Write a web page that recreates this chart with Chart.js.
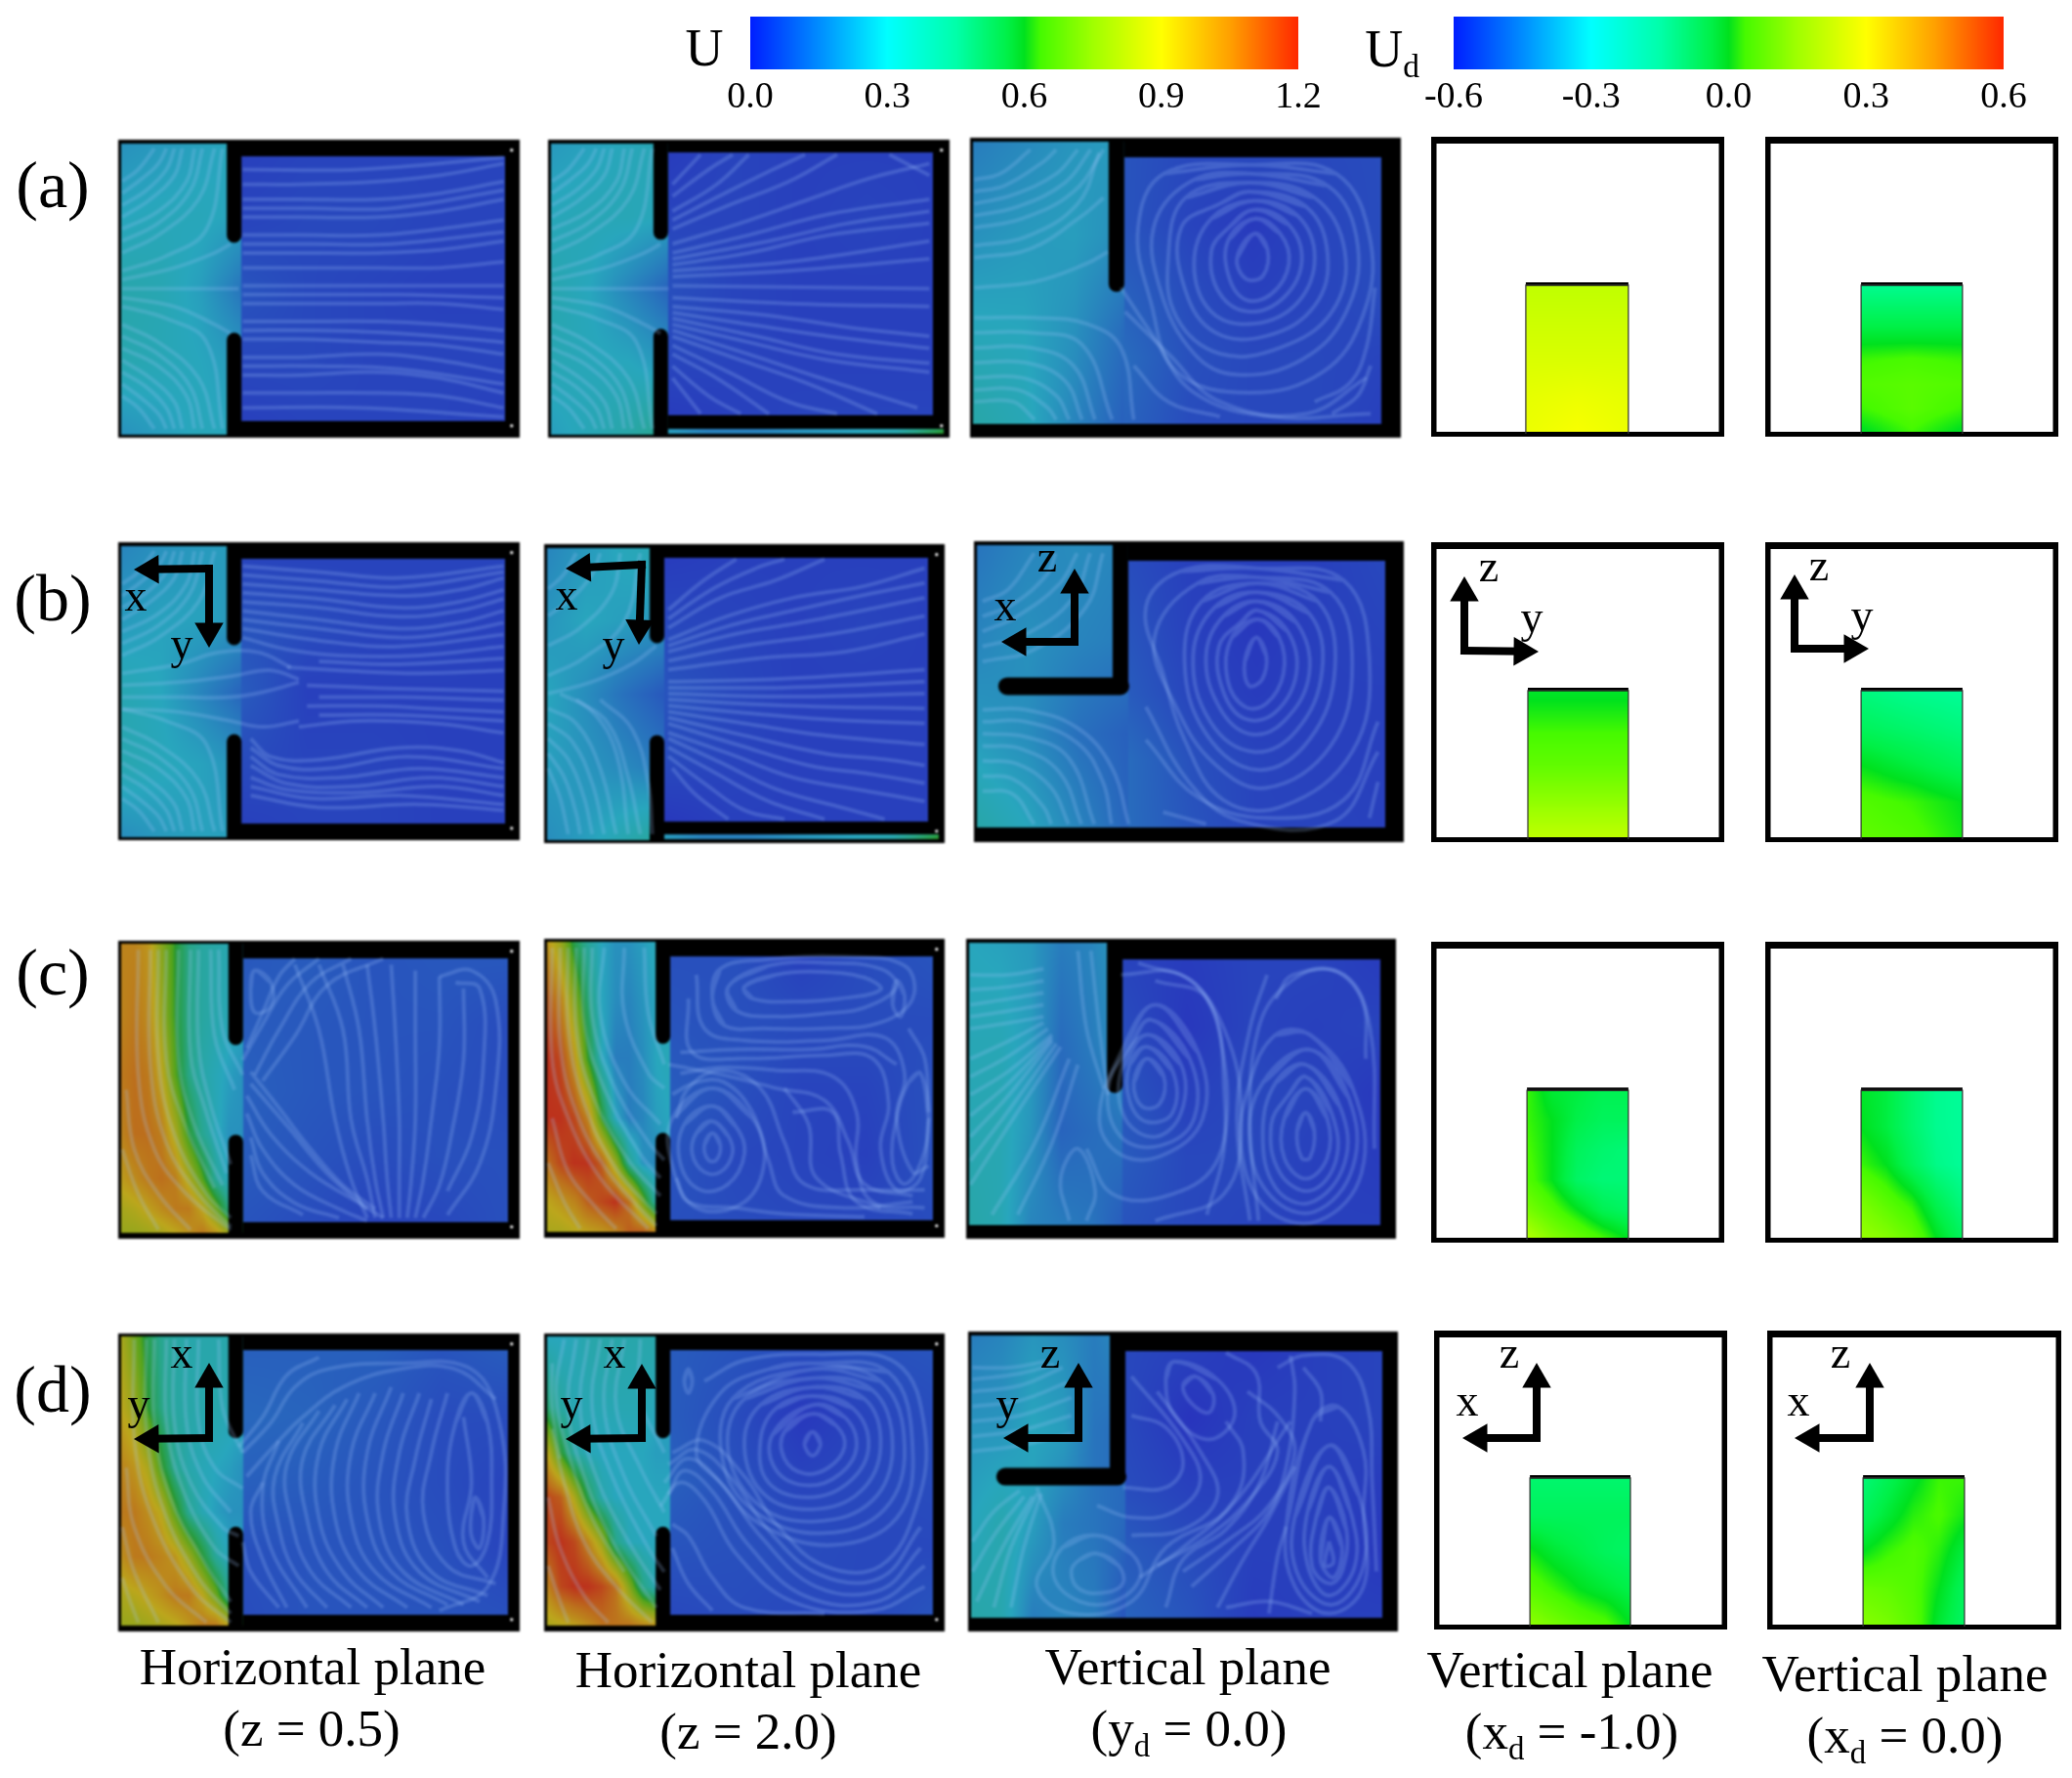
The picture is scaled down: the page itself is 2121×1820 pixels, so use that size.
<!DOCTYPE html>
<html>
<head>
<meta charset="utf-8">
<title>Velocity fields</title>
<script src="https://cdn.jsdelivr.net/npm/chart.js@4"></script>
<style>
  html, body { margin: 0; padding: 0; background: #fff; }
  #page { position: relative; width: 2121px; height: 1820px; overflow: hidden; }
  #page canvas { position: absolute; }
  .lbl { position: absolute; transform: translate(-50%, -50%); font-family: "Liberation Serif", serif; color: #000; line-height: 1; white-space: nowrap; }
  .lbl i { font-style: normal; font-size: .62em; position: relative; top: .32em; }
</style>
</head>
<body>
<div id="page"></div>
<script>
// colour bars
const uTicks = [0.0, 0.3, 0.6, 0.9, 1.2];
const udTicks = [-0.6, -0.3, 0.0, 0.3, 0.6];

// colour ramp
const rampAt = [0, .125, .25, .375, .47, .5, .53, .625, .75, .875, 1];
const rampR = [0, 0, 0, 0, 0, 0, 70, 160, 255, 255, 255];
const rampG = [30, 140, 255, 255, 240, 225, 250, 255, 255, 160, 40];
const rampB = [255, 255, 255, 170, 70, 30, 0, 0, 0, 0, 0];

// U outside the wall (rows top to bottom)
const a1Left = [[.25,.27,.29,.31],[.3,.31,.31,.29],[.35,.33,.28,.18],[.34,.32,.3,.27],[.25,.28,.31,.3]];
const a2Left = [[.27,.29,.31,.33],[.31,.32,.32,.3],[.34,.3,.22,.14],[.33,.31,.3,.26],[.28,.32,.36,.44]];
const b1Left = [[.22,.25,.27,.28],[.27,.29,.29,.26],[.33,.3,.22,.14],[.34,.31,.29,.25],[.24,.27,.29,.28]];
const b2Left = [[.22,.27,.31,.33],[.26,.3,.28,.26],[.3,.24,.17,.11],[.28,.26,.23,.19],[.24,.28,.34,.4]];
const bandRowsC1 = [1, 25, 45, 65, 80, 90, 98];
const bandRowsC2 = [1, 20, 40, 60, 75, 88, 98];
const bandRowsD1 = [1, 25, 45, 60, 75, 88, 98];
const bandRowsD2 = [1, 25, 40, 55, 70, 85, 98];
const c1Left = [
  [1.0,1.0,.95,.75,.6,.45,.38,.36,.33,.3],
  [1.0,1.03,.98,.8,.6,.45,.38,.35,.32,.3],
  [1.03,1.06,1.03,.9,.65,.45,.36,.32,.28,.25],
  [1.0,1.06,1.06,1.02,.85,.6,.42,.32,.25,.25],
  [.93,.98,1.03,1.06,1.02,.85,.65,.4,.3,.25],
  [.84,.87,.92,.98,1.03,1.03,.9,.7,.45,.3],
  [.8,.8,.82,.85,.9,.96,1.03,.95,.8,.6]];
const c2Left = [
  [.95,.8,.55,.4,.3,.25,.25,.28,.32,.32],
  [1.1,1.0,.75,.48,.3,.24,.22,.26,.3,.32],
  [1.2,1.15,.95,.6,.32,.2,.2,.24,.3,.32],
  [1.2,1.2,1.15,1.0,.6,.3,.2,.22,.28,.3],
  [1.05,1.15,1.2,1.2,1.1,.8,.42,.25,.22,.3],
  [.9,.95,1.0,1.1,1.15,1.2,1.05,.7,.35,.3],
  [.85,.85,.88,.92,.95,1.0,1.1,1.1,1.0,.7]];
const d1Left = [
  [.85,.7,.55,.42,.38,.35,.35,.35,.35,.35],
  [.9,.8,.6,.45,.38,.36,.35,.35,.33,.32],
  [1.0,.95,.85,.62,.42,.35,.32,.3,.28,.25],
  [1.03,1.03,.97,.88,.65,.42,.33,.28,.25,.25],
  [.97,1.03,1.03,1.0,.95,.8,.6,.4,.3,.28],
  [.85,.88,.92,.97,1.03,1.03,.9,.7,.42,.3],
  [.8,.8,.82,.85,.88,.95,1.03,1.03,.9,.6]];
const d2Left = [
  [.3,.3,.32,.35,.36,.36,.35,.35,.35,.32],
  [.5,.38,.33,.33,.33,.33,.33,.33,.3,.28],
  [.9,.6,.38,.32,.3,.3,.3,.3,.28,.28],
  [1.15,1.1,.85,.55,.35,.3,.3,.3,.3,.3],
  [1.15,1.2,1.15,1.0,.8,.45,.32,.3,.3,.3],
  [1.0,1.15,1.2,1.2,1.15,1.05,.75,.45,.32,.28],
  [.85,.88,.92,.98,1.05,1.05,1.05,1.0,.95,.6]];
const a3Left = [[.2,.23,.26,.28],[.25,.27,.28,.24],[.31,.3,.25,.16],[.36,.32,.22,.13]];
const b3Left = [[.18,.22,.24,.22],[.22,.25,.22,.2],[.27,.24,.17,.13],[.36,.3,.22,.14]];
const c3Left = [[.3,.29,.27,.2,.22,.28],[.32,.32,.28,.16,.2,.25],[.33,.33,.26,.14,.16,.18],[.36,.33,.22,.2,.18,.12]];
const d3Left = [[.2,.22,.26,.24,.2,.24],[.26,.26,.3,.28,.18,.16],[.3,.34,.28,.2,.18,.15],[.36,.34,.2,.22,.2,.1]];

// U inside the room
const a1Inner = [[.05,.06,.06,.06,.06],[.06,.07,.07,.06,.06],[.1,.07,.06,.05,.05],[.07,.07,.06,.06,.06],[.05,.06,.06,.06,.05]];
const a2Inner = [[.04,.06,.05,.05,.05],[.06,.06,.05,.06,.05],[.09,.06,.05,.05,.05],[.07,.06,.05,.05,.05],[.04,.05,.06,.06,.06]];
const a3Inner = [[.1,.07,.07,.07,.08],[.1,.06,.035,.06,.08],[.13,.08,.05,.06,.08],[.16,.09,.07,.07,.06],[.14,.08,.07,.07,.05]];
const b1Inner = [[.06,.06,.06,.06,.06],[.1,.08,.06,.06,.05],[.12,.05,.05,.05,.05],[.08,.06,.06,.05,.05],[.05,.06,.06,.05,.05]];
const b2Inner = [[.04,.05,.05,.05,.05],[.07,.06,.05,.06,.05],[.1,.07,.05,.05,.05],[.08,.06,.05,.05,.05],[.03,.05,.05,.05,.05]];
const b3Inner = [[.08,.05,.05,.05,.07],[.1,.05,.03,.05,.06],[.12,.06,.04,.05,.05],[.16,.09,.06,.05,.05],[.16,.1,.06,.06,.05]];
const c1Inner = [[.11,.12,.1,.11,.11],[.12,.11,.1,.1,.08],[.13,.11,.1,.09,.08],[.12,.1,.08,.09,.09],[.1,.08,.06,.07,.09]];
const c2Inner = [[.09,.09,.05,.08,.1],[.1,.09,.08,.08,.08],[.12,.09,.06,.06,.09],[.1,.07,.06,.05,.09],[.09,.08,.07,.07,.08]];
const c3Inner = [[.06,.04,.06,.06,.04],[.08,.03,.06,.05,.06],[.1,.05,.07,.06,.03],[.12,.07,.07,.05,.04],[.1,.07,.06,.05,.05]];
const d1Inner = [[.13,.13,.13,.1,.12],[.15,.14,.11,.08,.08],[.13,.12,.1,.08,.06],[.09,.1,.1,.09,.06],[.08,.1,.1,.1,.09]];
const d2Inner = [[.12,.1,.08,.09,.1],[.12,.08,.03,.06,.08],[.13,.09,.06,.07,.08],[.1,.09,.08,.07,.07],[.07,.08,.07,.07,.1]];
const d3Inner = [[.07,.05,.03,.05,.06],[.07,.02,.05,.05,.06],[.08,.05,.05,.05,.04],[.12,.08,.05,.05,.03],[.14,.1,.04,.05,.05]];

// U in the thin strip under the room
const stripValues = [[.28,.2,.2,.25,.28,.32,.55],[.3,.22,.22,.26,.3,.36,.62]];

// Ud on the door planes
const a4Door = [[.2,.2,.2],[.22,.22,.22],[.24,.24,.24],[.26,.27,.26],[.27,.29,.27]];
const a5Door = [[-.12,-.12,-.12],[-.07,-.07,-.07],[-.02,-.02,-.02],[.03,.04,.03],[.05,.06,.05],[.03,.06,.03],[-.01,.03,-.01]];
const b4Door = [[-.01,-.01,-.01],[.03,.03,.03],[.07,.07,.07],[.13,.13,.13],[.2,.2,.2]];
const b5Door = [[-.1,-.12,-.13],[-.06,-.08,-.1],[.0,-.03,-.06],[.05,.03,.0],[.07,.05,.01]];
const c4Door = [[.03,-.02,-.03,-.05,-.05],[.03,.0,-.04,-.06,-.06],[.04,.0,-.06,-.08,-.09],[.05,.0,-.07,-.09,-.09],[.1,.05,.0,-.05,-.07],[.18,.12,.08,.04,.0]];
const c5Door = [[-.01,-.03,-.08,-.12,-.13],[.0,-.03,-.08,-.12,-.13],[.03,.0,-.06,-.11,-.13],[.1,.06,.02,-.05,-.1],[.14,.12,.08,.0,-.06]];
const d4Door = [[-.08,-.08,-.08,-.08,-.08],[-.06,-.06,-.06,-.06,-.06],[.01,-.02,-.04,-.06,-.07],[.06,.03,.0,-.02,-.04],[.13,.1,.07,.05,.0]];
const d5Door = [[-.09,-.05,-.01,.03,.03],[-.06,-.02,.02,.04,.01],[.0,.03,.05,.02,-.03],[.08,.07,.05,.0,-.06],[.12,.1,.06,-.02,-.07]];

// streamlines: x,y,x,y... in percent of each panel
const fanUpper = [[1,38,10,32,20,20,24,3],[1,30,10,24,17,14,19,3],[1,22,7,17,12,10,14,3],[1,14,5,10,9,3],[1,44,12,39,22,30,26,3],[1,47,14,43,24,38,28,35],[1,50,30,50],[1,34,10,28,18,17,21,3],[1,26,8,20,14,12,16,3],[1,18,6,13,10,8,12,3]];
const fanLower = [[1,62,10,68,20,80,24,97],[1,70,10,76,17,86,19,97],[1,78,7,83,12,90,14,97],[1,86,5,90,9,97],[1,56,12,60,22,68,26,97],[1,53,14,56,24,62,28,65],[1,66,10,72,18,83,21,97],[1,74,8,80,14,88,16,97],[1,82,6,87,10,92,12,97]];
const a1Lines = [
  [31,10,60,10,96,6],[31,15,45,15,65,14,80,12,96,8],[31,20,45,20,65,20,80,18,96,14],[31,26,45,26,65,26,80,24,96,20],
  [31,32,45,32,65,32,80,30,96,27],[31,38,45,38,65,38,80,37,96,34],[31,43,45,43,65,43,80,43,96,41],[31,49,45,49,65,49,96,49],
  [31,55,45,55,65,55,80,55,96,57],[31,61,45,61,65,61,80,62,96,64],[31,67,45,67,65,68,80,69,96,72],[31,73,45,73,65,72,80,74,96,78],
  [31,79,45,79,65,78,80,80,96,85],[31,85,45,85,65,85,80,86,96,90],[31,90,60,90,96,93],
  [31,23,48,23,68,23,96,17],[31,35,48,35,68,35,96,31],[31,52,50,52,70,52,96,53],[31,64,50,64,70,65,96,68],[31,76,50,76,70,77,96,82]];
const a2Lines = [
  [31,42,50,38,70,32,95,28],[31,38,50,32,70,25,95,20],[31,35,48,28,65,20,80,13,95,8],[31,30,45,22,60,14,72,5],[31,24,42,15,50,5],[31,15,38,5],[85,5,95,12],
  [31,46,60,44,95,40],[31,49,95,50],[31,53,60,55,95,56],[31,58,50,62,70,66,95,70],[31,62,50,68,70,74,95,78],[31,66,48,74,65,82,82,92],[31,72,42,80,55,92],[31,80,38,92],
  [31,44,60,41,95,34],[31,40,55,34,75,28,95,24],[31,27,44,18,56,10,64,5],[31,19,40,10,46,5],[31,56,55,59,75,63,95,66],[31,60,52,66,72,72,95,75],[31,64,50,72,68,80,92,90],[31,69,45,78,60,88,72,92],[31,76,40,86,48,92]];
const b1Lines = [
  [31,8,50,10,70,12,96,8],[31,14,50,16,70,18,85,16,96,12],[31,20,50,22,70,25,85,23,96,19],[31,26,50,29,70,32,85,30,96,27],
  [31,32,42,36,55,38,75,38,96,35],[42,42,55,43,75,44,96,43],[47,48,65,49,96,50],[47,55,65,55,80,56,96,57],[45,62,60,60,80,61,96,64],
  [33,66,38,72,50,73,70,69,85,70,96,74],[33,72,40,78,55,79,75,76,96,79],[33,79,42,83,60,84,80,82,96,85],[33,85,50,89,75,88,96,90],
  [1,48,15,47,28,45,38,43,45,46],[1,52,15,52,28,52,37,50,45,47],[1,56,15,57,28,60,36,62,45,60],[1,44,15,41,25,37,35,37,43,42],
  [31,11,50,13,70,15,96,10],[31,17,50,19,70,22,85,20,96,16],[31,23,50,26,70,29,85,27,96,23],[31,29,50,33,70,35,96,31],[33,69,40,75,52,76,72,72,96,76],[33,75,42,81,58,82,78,79,96,82],[33,82,48,86,70,85,96,88],[50,40,70,41,96,39],[50,52,70,52,96,53],[50,58,70,58,96,60]];
const b2Lines = [
  [1,44,10,38,20,26,24,3],[1,34,9,28,17,16,19,3],[1,24,7,18,12,10,14,3],[1,15,5,10,8,3],[1,50,12,46,22,40,28,34],
  [1,55,8,60,14,75,18,97],[1,65,6,72,10,85,12,97],[1,75,4,85,6,97],[8,52,16,60,21,78,24,97],[14,52,22,62,26,80,27,97],[1,60,7,66,12,80,15,97],[1,70,5,78,8,90,9,97],[4,50,12,56,18,70,21,97],
  [31,36,48,30,65,26,95,18],[31,32,46,24,62,18,80,14,95,8],[31,28,44,18,58,12,70,5],[31,22,40,12,48,5],[31,42,55,38,75,36,95,30],
  [31,46,60,45,95,42],[31,50,60,51,95,50],[31,54,55,57,75,59,95,60],[31,58,50,64,70,70,85,72,95,74],[31,63,46,70,62,78,78,82,95,86],
  [31,68,42,76,56,86,70,92],[32,75,38,84,46,92],
  [31,39,50,34,72,30,95,24],[31,34,47,27,63,22,80,17,95,13],[31,25,42,15,53,8,60,5],[31,48,60,48,95,46],[31,52,60,54,95,55],[31,56,50,60,70,64,95,67],[31,60,48,67,66,74,82,77,95,80],[31,65,44,73,58,82,74,88,85,92],[31,71,40,80,50,89,60,92]];
const c1Lines = [
  [44,8,50,30,54,60,58,80,62,93],[50,8,56,30,58,60,62,80,64,93],[56,8,60,30,62,60,64,80,66,93],[62,8,64,30,66,60,67,80,68,93],[68,8,69,30,70,60,70,80,70,93],
  [74,10,74,30,74,60,73,80,72,93],[80,12,80,35,78,60,76,80,74,93],[86,16,86,40,83,65,80,82,76,93],[80,12,88,10,94,20,94,50,90,75,82,92],[84,14,90,16,91,40,88,66,82,84],
  [32,52,38,65,48,78,60,88,66,93],[32,58,36,70,44,82,55,90,62,94],[33,48,42,62,52,78,62,90],[33,66,36,78,44,88,55,93],[33,44,40,56,48,70,56,82,64,90],[33,72,36,84,46,92],
  [31,40,36,28,42,15,50,6],[34,45,40,30,48,14,58,6],[32,36,36,24,40,12,44,6],[36,47,44,32,52,15,66,6],[34,10,38,14,38,22,34,24,33,16,34,10],
  [5,3,5,45,9,70,17,85,28,97],[10,3,10,40,14,65,22,85,28,93],[15,3,15,40,19,62,26,82],[20,3,20,35,23,55,28,75],[25,3,26,30,31,45],[2,50,4,70,10,85,18,97],[1,70,5,85,10,97],[8,3,8,42,12,68,20,85,28,96],[12,3,12,40,17,63,24,83],[18,3,18,38,22,58,27,78],[23,3,24,32,29,50]];
const c2Lines = [
  [50,16,58,12,68,11,80,13,84,17,74,20,62,21,52,20,50,16],[46,16,56,9,70,8,84,10,88,16,80,23,70,25,58,26,48,24,46,16],[42,20,44,10,55,7,75,6,90,9,92,20,84,28,70,30,55,30,45,29,42,20],
  [38,12,40,30,50,34,70,34,85,33,90,45,88,60,92,78,96,76],[36,20,37,38,50,40,70,39,82,40,86,55,84,70,88,84,94,80,96,60],[34,45,45,43,58,44,72,46,78,58,78,75,82,88,95,90],
  [88,14,90,19,89,26,87,22,88,14],[42,65,44,69,43,74,41,74,40,69,42,65],[42,61,46,66,47,72,44,78,40,78,37,72,38,65,42,61],[42,56,48,63,50,72,46,82,39,84,34,75,35,62,42,56],[42,50,52,60,55,74,50,88,38,90,32,76,32,60,42,50],
  [32,52,38,48,45,48,52,58,56,74,60,86,75,90,92,88],[33,60,36,50,44,44,54,50,60,68,65,82,80,84,95,84],[33,80,36,88,48,90,60,92,80,93],[94,45,96,60,94,75,90,82,87,75,88,60,91,48,94,45],
  [34,38,48,37,66,37,80,36,88,42],[31,42,46,46,58,50,70,54,76,68,80,82,92,86],[62,58,72,58,74,72,78,88,92,92],[60,50,66,62,68,80,84,90],[91,30,95,40,96,58],
  [2,3,2,40,6,60,14,80,26,97],[6,3,6,30,10,55,18,77,28,92],[10,3,10,28,15,50,24,72,29,80],[15,3,14,25,20,48,29,62],[20,3,20,25,26,45,30,50],[25,3,26,25,30,42],[2,60,6,78,13,90,18,97],[1,75,5,88,9,97],[4,3,4,35,8,58,16,78,28,96],[8,3,8,30,12,52,21,74,29,86],[12,3,12,26,17,48,26,68,30,74]];
const d1Lines = [
  [88,20,92,30,93,50,92,70,88,78,84,72,82,50,84,30,88,20],[89,55,91,62,90,72,88,68,88,60,89,55],[82,20,78,40,76,60,82,78,94,84],[75,20,70,40,69,62,75,80,90,90],
  [68,18,62,40,62,62,68,80,82,91],[60,20,54,40,54,62,60,80,72,92],[54,24,46,42,47,62,52,80,62,92],[46,30,39,48,40,65,44,80,52,92],[36,50,33,60,36,76,42,92],
  [32,48,40,36,46,28,56,18,70,12,84,12,94,22],[30,38,36,28,42,14,50,8],[31,70,33,80,40,92],[31,40,38,30,44,18,52,12,70,10,88,12,95,30,96,60,92,85,80,93],
  [78,22,74,42,72,62,78,80,92,88],[71,20,66,40,65,62,71,80,86,91],[64,20,58,40,58,62,64,80,78,92],[57,22,50,40,50,62,56,80,66,92],[50,26,42,44,43,62,48,80,58,92],[86,28,88,50,86,70,92,82],[40,36,36,52,38,72,47,92],
  [4,2,4,35,8,60,18,85,28,97],[9,2,9,30,13,55,22,78,28,90],[14,2,14,30,18,50,26,65,30,68],[20,2,20,30,24,45,31,52],[25,2,26,25,31,40],[2,45,4,65,12,85,22,97],[1,65,4,80,10,97],[1,82,3,90,5,97],[7,2,7,32,11,58,20,82,28,94],[12,2,12,30,16,52,24,72,30,78],[17,2,17,30,21,48,28,60]];
const d2Lines = [
  [67,33,69,37,67,41,65,37,67,33],[67,27,73,31,75,38,71,45,65,47,60,42,60,33,67,27],[67,21,77,25,81,38,76,50,66,55,56,50,54,36,58,25,67,21],[67,15,82,19,87,38,82,56,68,63,54,58,46,40,50,22,67,15],
  [67,10,86,13,92,38,88,62,72,71,54,64,44,50,38,40,44,20,56,12,67,10],[32,40,40,36,50,48,58,64,70,78,84,78,93,58,95,32,88,10,68,7,50,9,40,16],[30,50,36,42,44,50,54,68,68,85,84,86,94,72],
  [29,58,34,50,40,56,48,74,62,90,82,93,95,85],[32,64,36,68,42,82,50,92,70,94],[32,72,36,84,42,93],[36,12,37,16,36,20,35,16,36,12],
  [67,24,75,28,78,38,74,47,66,51,58,46,57,34,67,24],[67,18,80,22,84,38,79,53,67,59,55,54,50,38,54,24,67,18],[67,12,84,16,90,38,85,59,70,67,54,61,45,45,47,22,67,12],[31,44,38,39,47,49,56,66,69,81,84,82,94,65],[31,54,35,46,42,53,51,71,65,88,83,90,95,78],
  [2,32,5,50,10,70,18,85,27,97],[8,2,6,25,10,48,18,72,28,92],[14,2,12,25,17,48,26,72,30,80],[20,2,18,25,24,45,30,60],[24,2,24,22,30,40],[2,10,2,25,4,42],[1,55,4,72,10,88,16,97],[1,78,4,90,6,97],[11,2,9,25,13,48,22,72,29,86],[17,2,15,25,20,48,28,68],[5,2,3,20,6,40,12,62,20,80]];
const a3Lines = [
  [65,9,85,12,93,35,91,60,82,78,65,85,48,78,42,55,39,30,45,12,65,9],[65,15,80,20,87,38,84,58,72,70,58,72,48,60,46,40,50,20,65,15],[66,21,76,26,80,40,76,55,66,62,56,58,52,42,56,27,66,21],
  [66,27,72,32,74,42,70,52,64,54,60,46,60,34,66,27],[66,32,69,37,68,46,64,47,62,40,66,32],[35,50,42,65,52,85,70,93,93,92],
  [65,12,83,16,90,36,87,59,77,74,62,79,52,72,44,50,43,28,52,14,65,12],[65,18,78,23,83,39,80,56,69,66,57,65,50,51,49,30,58,22,65,18],[66,24,74,29,77,41,73,53,65,58,58,52,56,38,60,30,66,24],[36,58,46,72,58,88,78,92,92,80],[38,76,46,88,58,93],[80,88,88,82,92,70,94,50],[84,92,90,86,93,76],
  [1,30,12,27,24,18,31,4],[1,22,10,19,20,12,25,4],[1,14,7,12,14,4],[1,40,14,37,26,26,31,20],[1,50,15,48,27,42,32,38],[1,60,15,60,27,62,35,70,38,94],[1,70,14,70,24,76,29,94],[1,80,12,80,20,86,23,94],[1,88,10,88,15,94],
  [1,36,13,33,25,22,30,5],[1,26,11,23,22,15,28,4],[1,18,8,16,17,8,20,4],[1,65,14,65,26,69,33,94],[1,75,13,75,22,81,26,94],[1,84,11,84,18,90,20,94]];
const b3Lines = [
  [65.6,32,68,38,67,46,64,48,63,40,65.6,32],[66,26,71,32,72,44,68,54,63,55,59,46,60,32,66,26],[66,20,75,27,78,44,72,60,64,64,57,55,54,38,58,25,66,20],[66,14,80,20,84,42,78,66,66,76,54,64,49,40,53,20,66,14],
  [66,9,86,13,92,40,88,70,72,88,58,86,49,66,44,44,40,22,48,10,66,9],[40,55,50,80,62,93,84,93,94,70],
  [66,12,83,17,88,41,83,68,68,82,56,74,47,55,42,32,52,14,66,12],[66,17,78,24,81,43,75,63,65,70,55,60,51,38,56,22,66,17],[66,23,73,30,75,44,70,57,63,59,58,50,57,35,62,27,66,23],[40,66,52,85,68,92,86,86,94,60],[44,90,54,94],[92,92,94,80],
  [2,56,12,56,24,62,32,75,36,94],[2,64,12,65,22,72,28,94],[2,73,10,74,18,82,22,94],[2,83,9,84,14,94],[2,30,10,25,20,14,24,4],[2,20,8,16,14,4],[2,40,14,36,26,22,30,4],
  [2,60,12,60,24,67,30,80,32,94],[2,68,11,69,20,77,25,94],[2,78,9,79,16,88,18,94],[2,25,9,21,17,11,19,4],[2,35,12,31,23,19,27,4]];
const c3Lines = [
  [42,40,46,46,45,55,41,56,39,48,42,40],[42,32,50,42,50,58,44,66,37,60,36,44,42,32],[44,22,54,38,55,60,46,72,36,72,31,60,36,38,44,22],[36,12,50,12,60,30,64,60,60,85,44,94],[44,14,56,20,60,50,58,75,46,86,34,85,28,70],
  [79,58,81,64,80,73,78,73,77,64,79,58],[79,50,84,60,84,73,79,80,74,73,74,60,79,50],[79,42,87,56,88,75,80,88,72,83,69,65,72,48,79,42],[80,32,90,50,92,78,82,94,70,90,64,70,66,48,72,32,80,32],
  [72,20,76,12,88,12,94,30,95,70],[66,94,63,60,66,30,70,12],[42,36,48,44,48,58,42,61,38,54,38,42,42,36],[43,27,52,40,53,60,45,69,36,66,33,50,38,36,43,27],[79,46,85,58,86,74,80,84,73,78,71,62,75,52,79,46],[80,37,89,53,90,76,81,91,71,86,66,68,69,48,80,37],[68,94,66,60,68,30,74,16,84,10,92,20,93,40],[56,92,60,70,60,40,54,16,40,8],
  [1,12,10,12,18,10],[1,22,10,20,18,18],[1,30,10,28,18,26],[1,40,10,34,18,28],[1,52,10,44,20,32],[1,66,10,52,20,34],[1,82,10,62,22,36],[6,92,16,68,24,40],[26,4,28,30,32,50],[29,4,31,30,33,52],[24,94,22,80,26,70,30,84,28,94],
  [1,17,10,16,18,14],[1,26,10,24,18,22],[1,46,10,39,19,30],[1,59,10,48,20,33],[1,74,10,57,21,35],[12,92,20,68,26,42]];
const d3Lines = [
  [53,15,57,21,56,27,52,24,50,18,53,15],[48,10,58,16,62,28,56,36,48,28,46,16,48,10],[60,7,67,14,68,30,72,40,66,55,56,68,44,78],[75,8,76,20,74,45,70,60,62,72,52,85],[72,12,78,8,88,10,93,25,94,50,95,80],
  [38,15,50,36,54,50,48,60,38,62,30,58],[38,28,46,32,50,44,46,52,36,52],[80,30,86,25,92,40,92,60,92,85,84,94,76,85,74,65,80,30],[84,45,89,60,90,78,84,88,79,78,79,60,84,45],[84,62,87,72,85,82,82,76,84,62],[84,70,85,77,83,78,84,70],
  [30,68,38,74,40,82,34,90,26,90,20,82,22,72,30,68],[16,52,20,70,16,85,24,94,38,90,46,72,60,60,75,30],[46,92,50,76,60,66,68,50,72,30],[58,92,64,76,70,62,76,45],[70,94,72,75,74,65],
  [44,20,54,40,58,55,50,66,38,68],[60,30,64,40,62,56,50,72,40,82],[65,20,72,28,76,40,70,58,60,70,50,80],[78,12,82,20,82,30],[84,38,91,55,92,78,85,91,77,82,76,62,84,38],[84,52,88,66,87,80,84,84,80,78,81,62,84,52],[30,74,35,78,36,84,32,87,26,86,24,80,26,76,30,74],[80,94,70,90,60,92],
  [1,12,10,12,18,10],[1,20,12,18,22,12],[1,30,12,28,24,22],[1,40,12,38,24,34],[2,90,8,72,15,55],[10,92,13,72,17,54],[1,70,6,60,12,53],[1,16,12,14,20,11],[1,25,12,23,23,17],[1,35,12,33,24,28],[1,80,6,68,13,55],[6,92,10,72,16,54]];

// where things go on the page, panels in page pixels, inner parts in percent
const flowPanels = [
  {box:[121,143,411,305], open:[34.4,64.9], inner:[30.7,96.4,5.6,94.4], left:a1Left, innerU:a1Inner, lines:[...fanUpper,...fanLower,...a1Lines]},
  {box:[561,143,411,305], open:[33.4,63.6], inner:[29.9,95.9,4.3,92.5], left:a2Left, innerU:a2Inner, lines:[...fanUpper,...fanLower,...a2Lines], strip:true},
  {box:[121,555,411,305], open:[34.4,64.6], inner:[30.7,96.4,5.6,94.4], left:b1Left, innerU:b1Inner, lines:[...fanUpper.slice(0,4),...fanUpper.slice(7),...fanLower.slice(0,5),...fanLower.slice(6),...b1Lines]},
  {box:[557,557,410,306], open:[33,64], inner:[30,95.9,4.6,92.8], left:b2Left, innerU:b2Inner, lines:b2Lines, strip:true},
  {box:[121,963,411,305], open:[34.8,65.2], inner:[31.1,97,5.9,94.4], left:c1Left, leftRows:bandRowsC1, innerU:c1Inner, lines:c1Lines},
  {box:[557,961,410,306], open:[35,65], inner:[31.5,97,5.9,94.1], left:c2Left, leftRows:bandRowsC2, innerU:c2Inner, lines:c2Lines},
  {box:[121,1365,411,305], open:[35,65], inner:[31.1,97,5.6,94.4], left:d1Left, leftRows:bandRowsD1, innerU:d1Inner, lines:d1Lines},
  {box:[557,1365,410,305], open:[35,65], inner:[31.5,97,5.6,94.4], left:d2Left, leftRows:bandRowsD2, innerU:d2Inner, lines:d2Lines},
  {box:[993,141,441,307], tip:50.8, inner:[35.8,95.5,6.5,95.4], left:a3Left, innerU:a3Inner, lines:a3Lines},
  {box:[997,554,440,308], tip:48.2, plate:[5.7,48.2], inner:[35.9,95.7,6.5,95.1], left:b3Left, innerU:b3Inner, lines:b3Lines},
  {box:[989,961,440,307], tip:50.8, inner:[36.4,96.4,6.8,95.4], left:c3Left, innerU:c3Inner, lines:c3Lines},
  {box:[991,1363,440,307], tip:48.4, plate:[6.6,48.4], inner:[36.6,96.4,6.5,95.4], left:d3Left, innerU:d3Inner, lines:d3Lines}
];
const doorPanels = [
  {box:[1465,140,300,307], door:[32.3,67.3,49.5,99], v:a4Door},
  {box:[1807,140,300,307], door:[32.7,67.3,49.5,99], v:a5Door},
  {box:[1465,555,300,307], door:[33,67.3,49.5,99], v:b4Door},
  {box:[1807,555,300,307], door:[32.7,67.3,49.5,99], v:b5Door},
  {box:[1465,964,300,308], door:[32.7,67.3,49.4,99], v:c4Door},
  {box:[1807,964,300,308], door:[32.7,67.3,49.4,99], v:c5Door},
  {box:[1468,1362,300,306], door:[32.7,67,49.3,99], v:d4Door},
  {box:[1809,1362,301,306], door:[32.6,67.1,49.3,99], v:d5Door}
];

// axis triads: corner, then arrow tips, page pixels
const triads = [
  [[214,582],[137,583],[214,663]], [[657,578],[579,582],[654,660]], [[1100,657],[1100,582],[1025,657]], [[1499,666],[1499,590],[1575,667]], [[1837,664],[1837,588],[1913,664]],
  [[214,1472],[214,1395],[137,1473]], [[657,1472],[657,1396],[579,1473]], [[1104,1472],[1104,1395],[1027,1472]], [[1573,1472],[1573,1395],[1497,1472]], [[1914,1472],[1914,1395],[1837,1472]]
];

const texts = [
  ['U',721,49,54], ['U<i>d</i>',1425,50,54],
  ['(a)',54,189,68], ['(b)',54,612,68], ['(c)',54,995,68], ['(d)',54,1422,68],
  ['x',139,610,46], ['y',186,659,46], ['x',580,609,46], ['y',628,660,46], ['z',1072,570,46], ['x',1029,620,46], ['z',1524,580,46], ['y',1568,632,46], ['z',1862,579,46], ['y',1906,630,46],
  ['x',186,1385,46], ['y',142,1437,46], ['x',629,1385,46], ['y',585,1437,46], ['z',1075,1385,46], ['y',1031,1437,46], ['z',1545,1385,46], ['x',1502,1434,46], ['z',1884,1385,46], ['x',1841,1434,46],
  ['Horizontal plane',320,1706,53], ['(z = 0.5)',319,1769,53],
  ['Horizontal plane',766,1709,53], ['(z = 2.0)',766,1772,53],
  ['Vertical plane',1216,1706,53], ['(y<i>d</i> = 0.0)',1217,1769,53],
  ['Vertical plane',1607,1709,53], ['(x<i>d</i> = -1.0)',1609,1772,53],
  ['Vertical plane',1950,1713,53], ['(x<i>d</i> = 0.0)',1950,1776,53]
];

const page = document.getElementById('page');

function rampColor(t, muted) {
  t = Math.max(0, Math.min(1, t));
  let i = 0;
  while (i < rampAt.length - 2 && t > rampAt[i + 1]) i++;
  const f = (t - rampAt[i]) / (rampAt[i + 1] - rampAt[i]);
  const r = rampR[i] + (rampR[i + 1] - rampR[i]) * f;
  const g = rampG[i] + (rampG[i + 1] - rampG[i]) * f;
  const b = rampB[i] + (rampB[i + 1] - rampB[i]) * f;
  if (muted) return [40 + .58 * r, 28 + .54 * g, 28 + .63 * b];
  return [r, g, b];
}

function cellOf(nodes, v) {
  let i = 0;
  while (i < nodes.length - 2 && v > nodes[i + 1]) i++;
  return [i, (v - nodes[i]) / (nodes[i + 1] - nodes[i])];
}

// paints a value grid smoothly, placed by the chart's own scales
const heatPlugin = {
  id: 'heat',
  beforeDatasetsDraw(chart) {
    chart.data.datasets.forEach(ds => {
      if (!ds.heat) return;
      const h = ds.heat;
      const sx = chart.scales.x, sy = chart.scales.y;
      const px0 = sx.getPixelForValue(h.xs[0]), px1 = sx.getPixelForValue(h.xs[h.xs.length - 1]);
      const py0 = sy.getPixelForValue(h.ys[0]), py1 = sy.getPixelForValue(h.ys[h.ys.length - 1]);
      const w = Math.round(px1 - px0), ht = Math.round(py1 - py0);
      const off = document.createElement('canvas');
      off.width = w; off.height = ht;
      const octx = off.getContext('2d');
      const img = octx.createImageData(w, ht);
      for (let j = 0; j < ht; j++) {
        const [r, fy] = cellOf(h.ys, sy.getValueForPixel(py0 + j + .5));
        for (let i = 0; i < w; i++) {
          const [c, fx] = cellOf(h.xs, sx.getValueForPixel(px0 + i + .5));
          const top = h.v[r][c] + (h.v[r][c + 1] - h.v[r][c]) * fx;
          const bot = h.v[r + 1][c] + (h.v[r + 1][c + 1] - h.v[r + 1][c]) * fx;
          const val = top + (bot - top) * fy;
          const col = rampColor((val - h.lo) / (h.hi - h.lo), h.muted);
          const k = (j * w + i) * 4;
          img.data[k] = col[0]; img.data[k + 1] = col[1]; img.data[k + 2] = col[2]; img.data[k + 3] = 255;
        }
      }
      octx.putImageData(img, 0, 0);
      chart.ctx.drawImage(off, Math.round(px0), Math.round(py0));
    });
  }
};

function span(a, b, n) {
  const out = [];
  for (let i = 0; i < n; i++) out.push(a + (b - a) * i / (n - 1));
  return out;
}

function heatSet(xs, ys, v, lo, hi, muted) {
  const data = [];
  ys.forEach(y => xs.forEach(x => data.push({x, y})));
  return {heat: {xs, ys, v, lo, hi, muted}, data, pointRadius: 0, showLine: false};
}

function pairs(flat) {
  const out = [];
  for (let i = 0; i < flat.length; i += 2) out.push({x: flat[i], y: flat[i + 1]});
  const a = out[0], b = out[out.length - 1];
  // closed rings: run past the join so the spline has no cusp there
  if (out.length > 4 && a.x === b.x && a.y === b.y) {
    out.unshift(out[out.length - 2]);
    out.push(out[2]);
  }
  return out;
}

function lineSet(flat, color, width, tension, cap) {
  return {data: pairs(flat), showLine: true, pointRadius: 0, borderColor: color, borderWidth: width, tension: tension || 0, borderCapStyle: cap || 'butt', fill: false};
}

function panelChart(box, datasets, bg, xMax, yMax) {
  const cv = document.createElement('canvas');
  cv.width = box[2]; cv.height = box[3];
  cv.style.left = box[0] + 'px'; cv.style.top = box[1] + 'px';
  cv.style.width = box[2] + 'px'; cv.style.height = box[3] + 'px';
  if (bg) cv.style.background = bg;
  page.appendChild(cv);
  new Chart(cv, {
    type: 'scatter',
    data: {datasets},
    plugins: [heatPlugin],
    options: {
      responsive: false, animation: false, devicePixelRatio: 1, events: [],
      layout: {padding: 0, autoPadding: false},
      plugins: {legend: {display: false}, tooltip: {enabled: false}},
      scales: {
        x: {type: 'linear', display: false, min: 0, max: xMax || 100},
        y: {type: 'linear', display: false, min: 0, max: yMax || 100, reverse: true}
      }
    }
  });
  return cv;
}

const streak = 'rgba(165,200,255,0.22)';

flowPanels.forEach(p => {
  const w = p.box[2];
  const wallWidth = p.tip ? 16 : 15;
  const wall = p.inner[0] - wallWidth / 2 / w * 100;
  const bottom = p.tip ? p.inner[3] : 98.8;
  const leftCols = span(.7, p.inner[0], p.left[0].length);
  const leftRows = p.leftRows ? p.leftRows.map(y => Math.min(y, bottom)) : span(1.2, bottom, p.left.length);
  const sets = [
    heatSet(leftCols, leftRows, p.left, 0, 1.2, true),
    heatSet(span(p.inner[0], p.inner[1], 5), span(p.inner[2], p.inner[3], 5), p.innerU, 0, 1.2, true)
  ];
  if (p.strip) sets.push(heatSet(span(28, 98.6, 7), [97.2, 98.8], stripValues, 0, 1.2, true));
  p.lines.forEach(l => sets.push(lineSet(l, streak, 4, .4)));
  if (p.tip) {
    sets.push(lineSet([wall, 0, wall, p.plate ? p.plate[1] : p.tip - 2], '#000', wallWidth, 0, 'round'));
    if (p.plate) sets.push(lineSet([p.plate[0] + 2, p.plate[1], wall, p.plate[1]], '#000', 18, 0, 'round'));
  } else {
    sets.push(lineSet([wall, 0, wall, p.open[0] - 2.3], '#000', wallWidth, 0, 'round'));
    sets.push(lineSet([wall, p.open[1] + 2.3, wall, 100], '#000', wallWidth, 0, 'round'));
    sets.push({data: [{x: wall + .3, y: 3.5}, {x: 98, y: 3.5}, {x: wall + .3, y: 96}, {x: 98, y: 96}], showLine: false, pointRadius: 1.6, pointStyle: 'circle', backgroundColor: '#fff', borderWidth: 0});
  }
  const cv = panelChart(p.box, sets, '#000');
  cv.style.filter = 'blur(0.9px)';
});

doorPanels.forEach(p => {
  const d = p.door;
  const cols = span(d[0], d[1], p.v[0].length);
  const rows = span(d[2], d[3], p.v.length);
  panelChart(p.box, [
    heatSet(cols, rows, p.v, -.6, .6, false),
    lineSet([d[0], d[3], d[0], d[2], d[1], d[2], d[1], d[3]], '#333', 1.2),
    lineSet([d[0], d[2] - .4, d[1], d[2] - .4], '#000', 3.5),
    lineSet([0, 0, 100, 0], '#000', 14),
    lineSet([0, 0, 0, 100], '#000', 11),
    lineSet([100, 0, 100, 100], '#000', 11),
    lineSet([0, 100, 100, 100], '#000', 10)
  ], '#fff');
});

// colour bars carry their ticks on a real axis
function colorBar(left, width, ticks, padL, padR) {
  const cv = document.createElement('canvas');
  cv.width = width; cv.height = 125;
  cv.style.left = left + 'px'; cv.style.top = '0px';
  page.appendChild(cv);
  new Chart(cv, {
    type: 'scatter',
    data: {datasets: [heatSet(ticks, [0, 1], [ticks, ticks], ticks[0], ticks[ticks.length - 1], false)]},
    plugins: [heatPlugin],
    options: {
      responsive: false, animation: false, devicePixelRatio: 1, events: [],
      layout: {padding: {top: 17, left: padL, right: padR, bottom: 0}, autoPadding: false},
      plugins: {legend: {display: false}, tooltip: {enabled: false}},
      scales: {
        x: {
          type: 'linear', min: ticks[0], max: ticks[ticks.length - 1],
          grid: {display: false, drawTicks: false}, border: {display: false},
          afterBuildTicks: axis => { axis.ticks = ticks.map(value => ({value})); },
          afterFit: axis => { axis.height = 54; axis.paddingLeft = 0; axis.paddingRight = 0; },
          ticks: {autoSkip: false, maxRotation: 0, padding: 6, color: '#000', font: {family: '"Liberation Serif", serif', size: 38}, callback: v => v.toFixed(1)}
        },
        y: {type: 'linear', display: false, min: 0, max: 1, reverse: true}
      }
    }
  });
}
colorBar(720, 660, uTicks, 48, 51);
colorBar(1440, 660, udTicks, 48, 49);

// axis arrows sit on one page-sized chart so the units are page pixels
const arrowSets = [];
triads.forEach(t => {
  const corner = t[0];
  [t[1], t[2]].forEach(tip => {
    const dx = tip[0] - corner[0], dy = tip[1] - corner[1];
    const len = Math.hypot(dx, dy);
    const head = {x: tip[0] - dx / len * 17, y: tip[1] - dy / len * 17};
    arrowSets.push(lineSet([corner[0], corner[1], head.x, head.y], '#000', 8, 0, 'square'));
    arrowSets.push({data: [head], showLine: false, pointStyle: 'triangle', pointRadius: 17, pointRotation: Math.atan2(dx, -dy) * 180 / Math.PI, backgroundColor: '#000', borderWidth: 0});
  });
});
panelChart([0, 0, 2121, 1820], arrowSets, null, 2121, 1820);

texts.forEach(t => {
  const el = document.createElement('div');
  el.className = 'lbl';
  el.innerHTML = t[0];
  el.style.left = t[1] + 'px';
  el.style.top = t[2] + 'px';
  el.style.fontSize = t[3] + 'px';
  page.appendChild(el);
});
</script>
</body>
</html>
